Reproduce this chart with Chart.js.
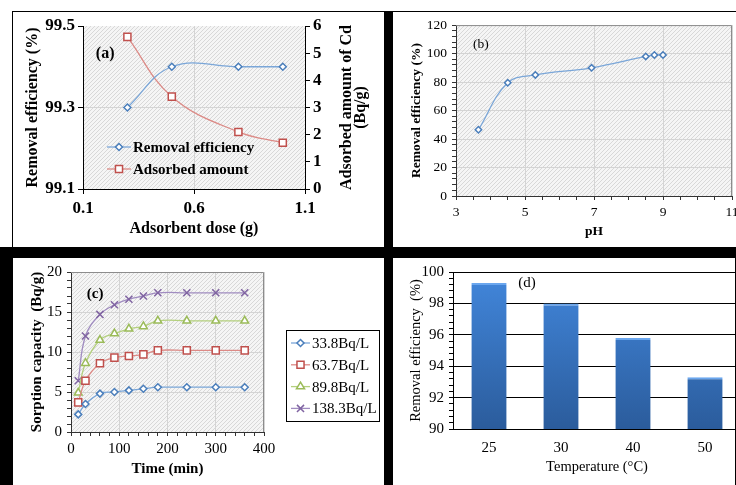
<!DOCTYPE html>
<html>
<head>
<meta charset="utf-8">
<script src="https://cdn.jsdelivr.net/npm/chart.js@4.4.0/dist/chart.umd.min.js"></script>
<style>
body { margin: 0; width: 736px; height: 485px; overflow: hidden; position: relative; background: #fff; }
canvas { position: absolute; }
.blk { position: absolute; background: #000; }
</style>
</head>
<body>
<canvas id="ca" width="371" height="235" style="left:13px;top:12px"></canvas>
<canvas id="cb" width="360" height="235" style="left:394px;top:12px"></canvas>
<canvas id="cc" width="371" height="227" style="left:13px;top:258px"></canvas>
<canvas id="cd" width="367" height="227" style="left:393px;top:258px"></canvas>

<div style="position:absolute;left:12px;top:11px;width:373px;height:237px;border-left:1px solid #000;border-top:1px solid #000;box-sizing:border-box"></div>
<div style="position:absolute;left:393px;top:11px;width:343px;height:1px;background:#000"></div>
<div class="blk" style="left:384px;top:11px;width:9px;height:474px"></div>
<div class="blk" style="left:0;top:247px;width:736px;height:11px"></div>
<div class="blk" style="left:0;top:247px;width:13px;height:238px"></div>
<div class="blk" style="left:735px;top:258px;width:1px;height:227px"></div>

<script>
// (a) effect of adsorbent dose
const doseG = [0.3, 0.5, 0.8, 1.0];
const doseRemoval = [99.3, 99.4, 99.4, 99.4];
const doseAdsorbed = [5.6, 3.4, 2.1, 1.7];

// (b) effect of pH
const phValues = [3.65, 4.5, 5.3, 6.93, 8.5, 8.75, 9.0];
const phRemoval = [46.5, 79.5, 85, 90, 98, 99, 99];

// (c) contact time, four initial activities
const timeMin = [15, 30, 60, 90, 120, 150, 180, 240, 300, 360];
const sorb338 = [2.2, 3.5, 4.8, 5.0, 5.2, 5.4, 5.6, 5.6, 5.6, 5.6];
const sorb637 = [3.7, 6.4, 8.6, 9.3, 9.5, 9.7, 10.2, 10.2, 10.2, 10.2];
const sorb898 = [4.9, 8.6, 11.5, 12.3, 12.9, 13.2, 13.9, 13.9, 13.9, 13.9];
const sorb1383 = [6.4, 12.0, 14.7, 15.9, 16.6, 17.0, 17.4, 17.4, 17.4, 17.4];
const concLabels = ['33.8Bq/L', '63.7Bq/L', '89.8Bq/L', '138.3Bq/L'];

// (d) effect of temperature
const tempLabels = ['25', '30', '40', '50'];
const tempRemoval = [99.3, 98.0, 95.8, 93.3];

Chart.defaults.font.family = "'Liberation Serif', 'Times New Roman', serif";
Chart.defaults.color = '#000';

const BLUE = '#4a7ebb', BLUE_L = '#7aa6d8';
const RED = '#c0504d', RED_L = '#dc8a86';
const GREEN = '#9bbb59', GREEN_L = '#b4d07e';
const PURPLE = '#8064a2', PURPLE_L = '#a08cc0';
const GRID = '#d4d4d4';
const CLEAR = 'rgba(0,0,0,0)';

const pts = (xs, ys) => xs.map((x, i) => ({x: x, y: ys[i]}));
const isMajor = (v, base, step) => {
  const r = (v - base) / step;
  return Math.abs(r - Math.round(r)) < 1e-6;
};

// diagonal hatch used behind the Excel-like plots
const hatch = (function() {
  const p = document.createElement('canvas');
  p.width = 4; p.height = 4;
  const g = p.getContext('2d');
  g.fillStyle = '#f5f5f5';
  g.fillRect(0, 0, 4, 4);
  g.strokeStyle = '#d8d8d8';
  g.lineWidth = 1;
  g.beginPath(); g.moveTo(0, 4); g.lineTo(4, 0); g.stroke();
  return p;
})();

function marker(ctx, style, x, y, r, color) {
  ctx.save();
  ctx.strokeStyle = color;
  ctx.fillStyle = '#fff';
  ctx.lineWidth = 1.5;
  ctx.beginPath();
  if (style === 'rectRot') {
    ctx.moveTo(x, y - r); ctx.lineTo(x + r, y); ctx.lineTo(x, y + r); ctx.lineTo(x - r, y); ctx.closePath();
  } else if (style === 'rect') {
    const s = r * Math.SQRT1_2;
    ctx.rect(x - s, y - s, 2 * s, 2 * s);
  } else if (style === 'triangle') {
    const w = r * 0.9;
    ctx.moveTo(x, y - r); ctx.lineTo(x + w, y + r / 2); ctx.lineTo(x - w, y + r / 2); ctx.closePath();
  } else if (style === 'crossRot') {
    const d = r * Math.SQRT1_2;
    ctx.moveTo(x - d, y - d); ctx.lineTo(x + d, y + d);
    ctx.moveTo(x + d, y - d); ctx.lineTo(x - d, y + d);
  }
  if (style !== 'crossRot') ctx.fill();
  ctx.stroke();
  ctx.restore();
}

const panelPlugin = {
  id: 'panel',
  beforeDraw(chart, args, opts) {
    const {ctx, chartArea: a} = chart;
    if (opts.hatch) {
      ctx.save();
      ctx.fillStyle = ctx.createPattern(hatch, 'repeat');
      ctx.fillRect(a.left, a.top, a.width, a.height);
      ctx.restore();
    }
  },
  beforeDatasetsDraw(chart, args, opts) {
    const {ctx, chartArea: a} = chart;
    if (opts.frame) {
      ctx.save();
      ctx.strokeStyle = opts.frame;
      ctx.lineWidth = 1;
      ctx.beginPath();
      ctx.moveTo(a.left, a.top + 0.5);
      ctx.lineTo(a.right - 0.5, a.top + 0.5);
      ctx.lineTo(a.right - 0.5, a.bottom);
      ctx.stroke();
      ctx.restore();
    }
  },
  afterDraw(chart, args, opts) {
    const {ctx, chartArea: a, scales} = chart;
    ctx.save();
    ctx.fillStyle = '#000';
    (opts.notes || []).forEach(n => {
      ctx.font = n.font;
      ctx.textAlign = 'center';
      ctx.textBaseline = 'middle';
      const xs = scales.x;
      const px = xs.type === 'category' ? xs.getPixelForValue(n.x) + n.dx : xs.getPixelForValue(n.x);
      ctx.fillText(n.text, px, scales.y.getPixelForValue(n.y));
    });
    if (opts.sideTitle) {
      const t = opts.sideTitle;
      ctx.font = t.font;
      ctx.textAlign = 'center';
      ctx.textBaseline = 'middle';
      const cy = (a.top + a.bottom) / 2;
      t.lines.forEach((line, i) => {
        ctx.save();
        ctx.translate(a.right + t.offsets[i], cy);
        ctx.rotate(-Math.PI / 2);
        ctx.fillText(line, 0, 0);
        ctx.restore();
      });
    }
    const lg = opts.legend;
    if (lg) {
      const ds = chart.data.datasets;
      const x0 = (lg.fromRight ? a.right : a.left) + lg.x;
      if (lg.box) {
        ctx.strokeStyle = '#000';
        ctx.lineWidth = 1;
        ctx.strokeRect(Math.round(x0 + lg.box[0]) + 0.5, Math.round(a.top + lg.y + lg.box[1]) + 0.5, lg.box[2], lg.box[3]);
      }
      ctx.font = lg.font;
      ctx.textAlign = 'left';
      ctx.textBaseline = 'middle';
      ds.forEach((d, i) => {
        const y = a.top + lg.y + i * lg.dy;
        ctx.strokeStyle = d.borderColor;
        ctx.lineWidth = 1.3;
        ctx.beginPath();
        ctx.moveTo(x0, y);
        ctx.lineTo(x0 + lg.len, y);
        ctx.stroke();
        marker(ctx, d.pointStyle, x0 + lg.len / 2, y, d.pointRadius, d.pointBorderColor);
        ctx.fillStyle = '#000';
        ctx.fillText(d.label, x0 + lg.len + 2, y + 1);
      });
    }
    ctx.restore();
  }
};

const lineSet = (label, data, line, mark, style, r, axis) => ({
  label: label, data: data, yAxisID: axis || 'y',
  borderColor: line, borderWidth: 1.3, tension: 0.4,
  pointStyle: style, pointRadius: r, pointBorderColor: mark,
  pointBackgroundColor: '#fff', pointBorderWidth: 1.5
});

const baseOpts = {
  responsive: false,
  animation: false,
  events: []
};

// ---------- (a)
new Chart(document.getElementById('ca'), {
  type: 'line',
  data: {
    datasets: [
      lineSet('Removal efficiency', pts(doseG, doseRemoval), BLUE_L, BLUE, 'rectRot', 3.5, 'y'),
      lineSet('Adsorbed amount', pts(doseG, doseAdsorbed), RED_L, RED, 'rect', 5, 'y1')
    ]
  },
  options: Object.assign({}, baseOpts, {
    layout: {padding: {top: 14, left: 0, right: 0, bottom: 0}},
    plugins: {
      legend: {display: false},
      tooltip: {enabled: false},
      panel: {
        hatch: true,
        notes: [{text: '(a)', x: 0.2, y: 99.432, font: 'bold 16px "Liberation Serif"'}],
        sideTitle: {lines: ['Adsorbed amount of Cd', '(Bq/g)'], offsets: [42, 56], font: 'bold 16px "Liberation Serif"'},
        legend: {x: 24, y: 121, dy: 22, len: 24, font: 'bold 15px "Liberation Serif"'}
      }
    },
    scales: {
      x: {
        type: 'linear', min: 0.1, max: 1.1,
        ticks: {stepSize: 0.5, padding: 4, font: {size: 17, weight: 'bold'}, callback: v => v.toFixed(1)},
        grid: {color: GRID, tickColor: '#000', tickLength: 5},
        border: {color: '#000'},
        title: {display: true, text: 'Adsorbent dose (g)', font: {size: 16, weight: 'bold'}, padding: {top: 0, bottom: 9}},
        afterFit: s => { s.height = 58; }
      },
      y: {
        position: 'left', min: 99.1, max: 99.5,
        ticks: {stepSize: 0.2, padding: 3, font: {size: 17, weight: 'bold'}, callback: v => v.toFixed(1)},
        grid: {color: c => c.tick && c.tick.value > 99.45 ? CLEAR : GRID, tickColor: '#000', tickLength: 5},
        border: {color: '#000'},
        title: {display: true, text: 'Removal efficiency (%)', font: {size: 16, weight: 'bold'}, padding: {top: 10, bottom: 0}},
        afterFit: s => { s.width = 70; }
      },
      y1: {
        position: 'right', min: 0, max: 6,
        ticks: {stepSize: 1, padding: 3, font: {size: 17, weight: 'bold'}},
        grid: {drawOnChartArea: false, tickColor: '#000', tickLength: 5},
        border: {color: '#000'},
        afterFit: s => { s.width = 79; }
      }
    }
  }),
  plugins: [panelPlugin]
});

// ---------- (b)
new Chart(document.getElementById('cb'), {
  type: 'line',
  data: {
    datasets: [lineSet('Removal efficiency', pts(phValues, phRemoval), BLUE_L, BLUE, 'rectRot', 3.2)]
  },
  options: Object.assign({}, baseOpts, {
    layout: {padding: {top: 12, left: 0, right: 22, bottom: 0}},
    plugins: {
      legend: {display: false},
      tooltip: {enabled: false},
      panel: {
        hatch: true, frame: '#8c8c8c',
        notes: [{text: '(b)', x: 3.72, y: 106.5, font: '13.5px "Liberation Serif"'}]
      }
    },
    scales: {
      x: {
        type: 'linear', min: 3, max: 11,
        ticks: {stepSize: 0.5, maxTicksLimit: 100, autoSkip: false, maxRotation: 0, padding: 4, font: {size: 13.5},
          callback: v => isMajor(v, 3, 2) ? v : ''},
        grid: {color: c => c.tick && isMajor(c.tick.value, 3, 2) ? GRID : CLEAR, tickColor: '#333', tickLength: 4},
        border: {color: '#333'},
        title: {display: true, text: 'pH', font: {size: 13.5, weight: 'bold'}, padding: {top: 0, bottom: 7}},
        afterFit: s => { s.height = 51; }
      },
      y: {
        min: 0, max: 120,
        ticks: {stepSize: 4, maxTicksLimit: 100, autoSkip: false, padding: 5, font: {size: 13.5},
          callback: v => isMajor(v, 0, 20) ? v : ''},
        grid: {color: c => c.tick && isMajor(c.tick.value, 0, 20) ? GRID : CLEAR, tickColor: '#333', tickLength: 4},
        border: {color: '#333'},
        title: {display: true, text: 'Removal efficiency (%)', font: {size: 13.5, weight: 'bold'}, padding: {top: 14, bottom: 0}},
        afterFit: s => { s.width = 62; }
      }
    }
  }),
  plugins: [panelPlugin]
});

// ---------- (c)
new Chart(document.getElementById('cc'), {
  type: 'line',
  data: {
    datasets: [
      lineSet(concLabels[0], pts(timeMin, sorb338), BLUE_L, BLUE, 'rectRot', 3.5),
      lineSet(concLabels[1], pts(timeMin, sorb637), RED_L, RED, 'rect', 5),
      lineSet(concLabels[2], pts(timeMin, sorb898), GREEN_L, GREEN, 'triangle', 4.5),
      lineSet(concLabels[3], pts(timeMin, sorb1383), PURPLE_L, PURPLE, 'crossRot', 5)
    ]
  },
  options: Object.assign({}, baseOpts, {
    layout: {padding: {top: 13, left: 0, right: 120, bottom: 0}},
    plugins: {
      legend: {display: false},
      tooltip: {enabled: false},
      panel: {
        hatch: true, frame: '#8c8c8c',
        notes: [{text: '(c)', x: 50, y: 17.25, font: 'bold 15px "Liberation Serif"'}],
        legend: {fromRight: true, x: 27, y: 71, dy: 21.8, len: 19, font: '15px "Liberation Serif"', box: [-5, -13, 93, 91]}
      }
    },
    scales: {
      x: {
        type: 'linear', min: 0, max: 400,
        ticks: {stepSize: 20, maxTicksLimit: 100, autoSkip: false, maxRotation: 0, padding: 4, font: {size: 15},
          callback: v => isMajor(v, 0, 100) ? v : ''},
        grid: {color: c => c.tick && isMajor(c.tick.value, 0, 100) ? GRID : CLEAR, tickColor: '#333', tickLength: 4},
        border: {color: '#333'},
        title: {display: true, text: 'Time (min)', font: {size: 15, weight: 'bold'}, padding: {top: 0, bottom: 7}},
        afterFit: s => { s.height = 53; }
      },
      y: {
        min: 0, max: 20,
        ticks: {stepSize: 1, maxTicksLimit: 100, autoSkip: false, padding: 5, font: {size: 15},
          callback: v => isMajor(v, 0, 5) ? v : ''},
        grid: {color: c => c.tick && isMajor(c.tick.value, 0, 5) ? GRID : CLEAR, tickColor: '#333', tickLength: 4},
        border: {color: '#333'},
        title: {display: true, text: 'Sorption capacity  (Bq/g)', font: {size: 15, weight: 'bold'}, padding: {top: 15, bottom: 0}},
        afterFit: s => { s.width = 58; }
      }
    }
  }),
  plugins: [panelPlugin]
});

// ---------- (d)
new Chart(document.getElementById('cd'), {
  type: 'bar',
  data: {
    labels: tempLabels,
    datasets: [{
      label: 'Removal efficiency',
      data: tempRemoval,
      backgroundColor: c => {
        const a = c.chart.chartArea;
        if (!a) return '#3a74c0';
        const g = c.chart.ctx.createLinearGradient(0, a.top, 0, a.bottom);
        g.addColorStop(0, '#4287dc');
        g.addColorStop(1, '#2b5c9c');
        return g;
      },
      borderColor: '#6aa6ee',
      borderWidth: {top: 2, left: 0, right: 0, bottom: 0},
      borderSkipped: 'bottom',
      categoryPercentage: 1,
      barPercentage: 0.49
    }]
  },
  options: Object.assign({}, baseOpts, {
    layout: {padding: {top: 14, left: 0, right: 19, bottom: 0}},
    plugins: {
      legend: {display: false},
      tooltip: {enabled: false},
      panel: {
        notes: [{text: '(d)', x: '25', dx: 38, y: 99.3, font: '15px "Liberation Serif"'}]
      }
    },
    scales: {
      x: {
        ticks: {padding: 10, font: {size: 15}},
        grid: {drawOnChartArea: false, drawTicks: false},
        border: {color: '#000'},
        title: {display: true, text: 'Temperature (°C)', font: {size: 14.5}, padding: {top: 0, bottom: 9}},
        afterFit: s => { s.height = 56; }
      },
      y: {
        min: 90, max: 100,
        ticks: {stepSize: 0.4, maxTicksLimit: 100, autoSkip: false, padding: 5, font: {size: 15},
          callback: v => isMajor(v, 90, 2) ? v : ''},
        grid: {color: c => c.tick && c.tick.value > 90 && isMajor(c.tick.value, 90, 2) ? '#000' : CLEAR, tickColor: '#000', tickLength: 4},
        border: {color: '#000'},
        title: {display: true, text: 'Removal efficiency  (%)', font: {size: 14.5}, padding: {top: 14, bottom: 0}},
        afterFit: s => { s.width = 60; }
      }
    }
  }),
  plugins: [panelPlugin]
});
</script>
</body>
</html>
